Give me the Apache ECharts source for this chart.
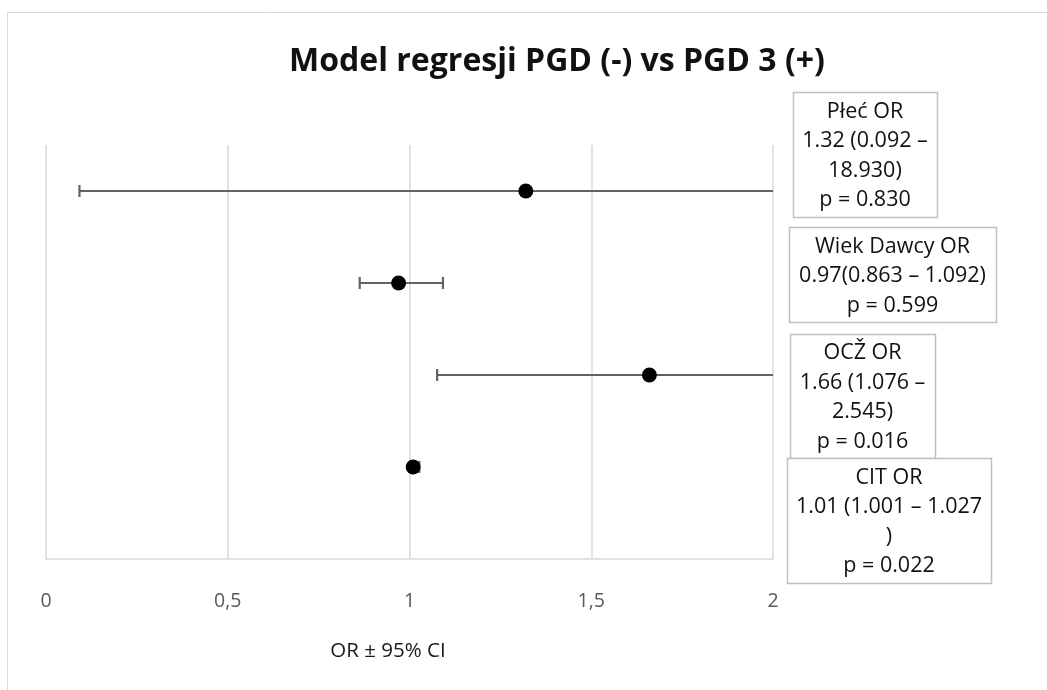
<!DOCTYPE html>
<html>
<head>
<meta charset="utf-8">
<script src="https://cdn.jsdelivr.net/npm/echarts@6/dist/echarts.min.js"></script>
<style>
  html, body { margin: 0; padding: 0; background: #fff; }
  #chart { width: 1047px; height: 690px; }
</style>
</head>
<body>
<div id="chart"></div>
<script>
// Predictors of the regression model, top to bottom
const predictors = ['Płeć', 'Wiek Dawcy', 'OCŽ', 'CIT'];
const rowPos = [4, 3, 2, 1];
const oddsRatio = [1.32, 0.97, 1.66, 1.01];
const ciLow = [0.092, 0.863, 1.076, 1.001];
const ciHigh = [18.930, 1.092, 2.545, 1.027];
const pValue = ['0.830', '0.599', '0.016', '0.022'];

// Annotation text per predictor (line breaks as they wrap in their boxes)
const noteLines = [
  ['Płeć OR', '1.32 (0.092 –', '18.930)', 'p = 0.830'],
  ['Wiek Dawcy OR', '0.97(0.863 – 1.092)', 'p = 0.599'],
  ['OCŽ OR', '1.66 (1.076 –', '2.545)', 'p = 0.016'],
  ['CIT OR', '1.01 (1.001 – 1.027', ')', 'p = 0.022']
];

const xTicks = ['0', '0,5', '1', '1,5', '2'];
const X_MAX = 2;

const FONT = '"Open Sans", "Noto Sans", sans-serif';
const GRID_COLOR = '#d9d9d9';
const BAR_COLOR = '#636363';

// Annotation boxes: [left, top, width, height]
const noteBoxes = [
  [793, 92, 144, 125],
  [789, 227, 207, 95],
  [790, 334, 145, 124],
  [787, 458, 204, 125]
];
const NOTE_LINE_H = 29.5;

const chart = echarts.init(document.getElementById('chart'), null, { renderer: 'canvas' });

const pointData = predictors.map((n, i) => [oddsRatio[i], rowPos[i], n]);
const ciData = predictors.map((n, i) => [rowPos[i], ciLow[i], ciHigh[i]]);

const graphics = [
  // outer chart frame (continues past the right and bottom edges)
  {
    type: 'rect', silent: true, z: 0,
    shape: { x: 7.5, y: 12.5, width: 1200, height: 800 },
    style: { fill: 'none', stroke: GRID_COLOR, lineWidth: 1 }
  },
  // x axis title
  {
    type: 'text', silent: true,
    style: {
      text: 'OR ± 95% CI', x: 388, y: 651,
      align: 'center', verticalAlign: 'middle',
      font: '20.5px ' + FONT, fill: '#1a1a1a'
    }
  }
];

noteBoxes.forEach((b, i) => {
  const lines = noteLines[i];
  graphics.push({
    type: 'rect', silent: true, z: 10,
    shape: { x: b[0] + 0.5, y: b[1] + 0.5, width: b[2], height: b[3] },
    style: { fill: '#ffffff', stroke: '#bfbfbf', lineWidth: 1.5 }
  });
  graphics.push({
    type: 'text', silent: true, z: 11,
    style: {
      text: lines.join('\n'),
      x: b[0] + b[2] / 2,
      y: b[1] + b[3] / 2 + 1.5,
      align: 'center', verticalAlign: 'middle',
      lineHeight: NOTE_LINE_H,
      font: '21.5px ' + FONT, fill: '#111111'
    }
  });
});

const option = {
  backgroundColor: '#ffffff',
  animation: false,
  title: {
    text: 'Model regresji PGD (-) vs PGD 3 (+)',
    left: 552, top: 41,
    textAlign: 'center',
    textStyle: { fontFamily: FONT, fontWeight: 'bold', fontSize: 32, color: '#111111' }
  },
  grid: { left: 46, right: 274, top: 145, bottom: 131, containLabel: false },
  xAxis: {
    type: 'value', min: 0, max: X_MAX, interval: 0.5,
    axisLine: { show: true, lineStyle: { color: GRID_COLOR, width: 1.5 } },
    axisTick: { show: false },
    splitLine: { show: true, lineStyle: { color: GRID_COLOR, width: 1.5 } },
    axisLabel: {
      margin: 32, color: '#595959', fontFamily: FONT, fontSize: 19.5,
      formatter: v => xTicks[Math.round(v / 0.5)]
    }
  },
  yAxis: {
    type: 'value', min: 0, max: 4.5, show: false,
    splitLine: { show: false }
  },
  graphic: graphics,
  series: [
    {
      name: 'CI',
      type: 'custom',
      z: 2,
      data: ciData,
      encode: { x: [1, 2], y: 0 },
      renderItem: function (params, api) {
        const y = api.value(0);
        const lo = api.value(1);
        const hi = api.value(2);
        const loC = Math.max(lo, 0);
        const hiC = Math.min(hi, X_MAX);
        const p0 = api.coord([loC, y]);
        const p1 = api.coord([hiC, y]);
        const capH = 6;
        const style = { stroke: BAR_COLOR, lineWidth: 2.2, fill: 'none' };
        const children = [
          { type: 'line', shape: { x1: p0[0], y1: p0[1], x2: p1[0], y2: p1[1] }, style: style }
        ];
        if (lo >= 0) {
          children.push({ type: 'line', shape: { x1: p0[0], y1: p0[1] - capH, x2: p0[0], y2: p0[1] + capH }, style: style });
        }
        if (hi <= X_MAX) {
          children.push({ type: 'line', shape: { x1: p1[0], y1: p1[1] - capH, x2: p1[0], y2: p1[1] + capH }, style: style });
        }
        return { type: 'group', children: children };
      }
    },
    {
      name: 'OR',
      type: 'scatter',
      z: 3,
      symbol: 'circle',
      symbolSize: 15,
      itemStyle: { color: '#000000', opacity: 1 },
      data: pointData
    }
  ]
};

chart.setOption(option);
</script>
</body>
</html>
